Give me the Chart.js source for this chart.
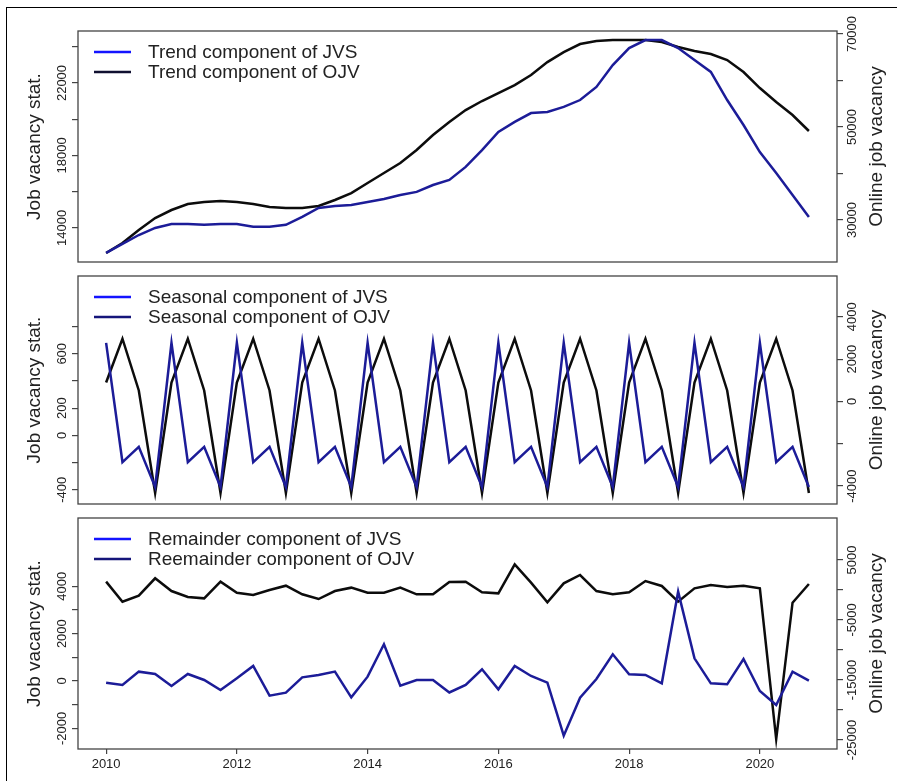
<!DOCTYPE html>
<html>
<head>
<meta charset="utf-8">
<script src="https://cdn.jsdelivr.net/npm/chart.js@4.4.1/dist/chart.umd.min.js"></script>
<style>
  body { margin: 0; background: #fff; width: 897px; height: 781px; overflow: hidden; position: relative; }
  #frame { position: absolute; left: 6px; top: 7px; width: 950px; height: 850px; border-left: 1.5px solid #000; border-top: 1.5px solid #000; }
  canvas { position: absolute; left: 0; }
</style>
</head>
<body>
<div id="frame"></div>
<canvas id="trend" width="897" height="270" style="top:0"></canvas>
<canvas id="seasonal" width="897" height="236" style="top:270px"></canvas>
<canvas id="remainder" width="897" height="275" style="top:506px"></canvas>
<script>
// quarterly observations, 2010 Q1 .. 2020 Q4
const firstYear = 2010;
const quarters = [];
for (let i = 0; i < 44; i++) quarters.push(firstYear + i / 4);

const trendJVS = [12620, 13120, 13610, 14000, 14220, 14220, 14170, 14220, 14220, 14060, 14060, 14170,
  14610, 15100, 15210, 15270, 15430, 15600, 15820, 15990, 16370, 16650, 17370, 18300,
  19300, 19850, 20340, 20400, 20680, 21060, 21780, 22990, 23930, 24370, 24370, 23930,
  23270, 22610, 21060, 19680, 18190, 17030, 15820, 14610];
const trendOJV = [22900, 25050, 27850, 30430, 32150, 33440, 33870, 34090, 33870, 33440, 32800, 32580,
  32580, 33010, 34300, 35800, 37960, 40100, 42260, 45050, 48280, 51070, 53650, 55590,
  57300, 59030, 61180, 63970, 66120, 67840, 68490, 68700, 68700, 68700, 68270, 67200,
  66340, 65690, 64400, 61820, 58380, 55370, 52580, 49140];

const seasonalJVS = [680, -198, -85, -380, 680, -198, -85, -380, 680, -198, -85, -380,
  680, -198, -85, -380, 680, -198, -85, -380, 680, -198, -85, -380,
  680, -198, -85, -380, 680, -198, -85, -380, 680, -198, -85, -380,
  680, -198, -85, -380, 680, -198, -85, -380];
const seasonalOJV = [894, 2965, 518, -4330, 894, 2965, 518, -4330, 894, 2965, 518, -4330,
  894, 2965, 518, -4330, 894, 2965, 518, -4330, 894, 2965, 518, -4330,
  894, 2965, 518, -4330, 894, 2965, 518, -4330, 894, 2965, 518, -4330,
  894, 2965, 518, -4330, 894, 2965, 518, -4330];

const remainderJVS = [-70, -170, 395, 296, -211, 296, 42, -380, 113, 634, -620, -493,
  155, 253, 395, -690, 183, 1550, -197, 42, 42, -485, -169, 493,
  -352, 634, 211, -70, -2310, -704, 85, 1127, 282, 253, -99, 3775,
  958, -99, -141, 929, -422, -1014, 395, 14];
const remainderOJV = [1390, -1950, -950, 1950, -170, -1170, -1390, 1390, -450, -830, 0, 720,
  -720, -1500, -170, 390, -450, -450, 390, -720, -720, 1330, 1390, -390,
  -560, 4280, 1220, -2060, 1110, 2500, -170, -720, -390, 1500, 670, -1950,
  280, 830, 500, 720, 280, -24840, -2110, 1000];

// axis ticks (marks) and the ones that carry a label
const xTicks = [2010, 2012, 2014, 2016, 2018, 2020];
const trendLeftTicks = [14000, 16000, 18000, 20000, 22000, 24000];
const trendLeftLabels = [14000, 18000, 22000];
const trendRightTicks = [30000, 40000, 50000, 60000, 70000];
const trendRightLabels = [30000, 50000, 70000];
const seasLeftTicks = [-400, -200, 0, 200, 400, 600, 800];
const seasLeftLabels = [-400, 0, 200, 600];
const seasRightTicks = [-4000, -2000, 0, 2000, 4000];
const seasRightLabels = [-4000, 0, 2000, 4000];
const remLeftTicks = [-2000, -1000, 0, 1000, 2000, 3000, 4000];
const remLeftLabels = [-2000, 0, 2000, 4000];
const remRightTicks = [-25000, -20000, -15000, -10000, -5000, 0, 5000];
const remRightLabels = [-25000, -15000, -5000, 5000];

const FONT = '"Liberation Sans", Arial, Helvetica, sans-serif';
const blueLine = '#1c1c98';
const blackLine = '#0c0c0c';

// R-style box, rotated tick labels, axis titles and inset legend
const rPlot = {
  id: 'rPlot',
  afterDraw(chart, args, o) {
    const ctx = chart.ctx, a = chart.chartArea;
    ctx.save();
    ctx.strokeStyle = '#444';
    ctx.lineWidth = 1.3;
    ctx.strokeRect(a.left, a.top, a.right - a.left, a.bottom - a.top);

    ctx.fillStyle = '#222';
    ctx.textAlign = 'center';
    ctx.textBaseline = 'middle';
    ctx.font = '13px ' + FONT;
    [['yL', o.leftLabels, a.left - 16], ['yR', o.rightLabels, a.right + 15]].forEach(([id, labels, x]) => {
      const sc = chart.scales[id];
      sc.ticks.forEach(t => {
        if (!labels.includes(t.value)) return;
        ctx.save();
        ctx.translate(x, sc.getPixelForValue(t.value));
        ctx.rotate(-Math.PI / 2);
        ctx.fillText(String(t.value), 0, 0);
        ctx.restore();
      });
    });

    ctx.font = '19px ' + FONT;
    const cy = (a.top + a.bottom) / 2;
    [[o.leftTitle, 35], [o.rightTitle, 877]].forEach(([txt, x]) => {
      ctx.save();
      ctx.translate(x, cy);
      ctx.rotate(-Math.PI / 2);
      ctx.fillText(txt, 0, 0);
      ctx.restore();
    });

    ctx.font = '19px ' + FONT;
    ctx.textAlign = 'left';
    o.legend.forEach((it, i) => {
      const y = a.top + 21 + i * 20;
      ctx.strokeStyle = it.color;
      ctx.lineWidth = 2.5;
      ctx.beginPath();
      ctx.moveTo(a.left + 16, y);
      ctx.lineTo(a.left + 53, y);
      ctx.stroke();
      ctx.fillStyle = '#222';
      ctx.fillText(it.text, a.left + 70, y + 1);
    });
    ctx.restore();
  }
};

function yAxis(pos, min, max, ticks, width) {
  return {
    position: pos, min: min, max: max,
    afterBuildTicks: s => { s.ticks = ticks.map(v => ({ value: v })); },
    afterFit: s => { s.width = width; },
    ticks: { display: false },
    grid: { drawOnChartArea: false, drawTicks: true, tickLength: 6, color: '#444', lineWidth: 1.2 },
    border: { display: false }
  };
}

function panel(id, cfg) {
  const pts = arr => quarters.map((q, i) => ({ x: q, y: arr[i] }));
  return new Chart(document.getElementById(id), {
    type: 'line',
    data: {
      datasets: [
        { data: pts(cfg.jvs), yAxisID: 'yL', borderColor: blueLine, borderWidth: 2.5, pointRadius: 0, tension: 0, fill: false },
        { data: pts(cfg.ojv), yAxisID: 'yR', borderColor: blackLine, borderWidth: 2.5, pointRadius: 0, tension: 0, fill: false }
      ]
    },
    options: {
      responsive: false,
      animation: false,
      devicePixelRatio: 1,
      layout: { padding: { left: 8, right: 5, top: cfg.padTop, bottom: cfg.padBottom } },
      plugins: {
        legend: { display: false },
        tooltip: { enabled: false },
        rPlot: {
          leftLabels: cfg.leftLabels, rightLabels: cfg.rightLabels,
          leftTitle: 'Job vacancy stat.', rightTitle: 'Online job vacancy',
          legend: cfg.legend
        }
      },
      scales: {
        x: {
          type: 'linear', min: 2009.57, max: 2021.18, display: cfg.showX,
          afterBuildTicks: s => { s.ticks = xTicks.map(v => ({ value: v })); },
          afterFit: s => { s.height = cfg.showX ? 32 : 0; },
          ticks: { callback: v => String(v), autoSkip: false, maxRotation: 0, color: '#222', padding: 3, font: { size: 13, family: FONT } },
          grid: { drawOnChartArea: false, drawTicks: true, tickLength: 5, color: '#444', lineWidth: 1.2 },
          border: { display: false }
        },
        yL: yAxis('left', cfg.leftMin, cfg.leftMax, cfg.leftTicks, 70),
        yR: yAxis('right', cfg.rightMin, cfg.rightMax, cfg.rightTicks, 55)
      }
    },
    plugins: [rPlot]
  });
}

panel('trend', {
  jvs: trendJVS, ojv: trendOJV, showX: false, padTop: 31, padBottom: 8,
  leftMin: 12120, leftMax: 24870, leftTicks: trendLeftTicks, leftLabels: trendLeftLabels,
  rightMin: 20970, rightMax: 70650, rightTicks: trendRightTicks, rightLabels: trendRightLabels,
  legend: [{ text: 'Trend component of JVS', color: '#1414ff' }, { text: 'Trend component of OJV', color: '#101030' }]
});

panel('seasonal', {
  jvs: seasonalJVS, ojv: seasonalOJV, showX: false, padTop: 6, padBottom: 2,
  leftMin: -505, leftMax: 1172, leftTicks: seasLeftTicks, leftLabels: seasLeftLabels,
  rightMin: -4847, rightMax: 5930, rightTicks: seasRightTicks, rightLabels: seasRightLabels,
  legend: [{ text: 'Seasonal component of JVS', color: '#1414ff' }, { text: 'Seasonal component of OJV', color: '#15157a' }]
});

panel('remainder', {
  jvs: remainderJVS, ojv: remainderOJV, showX: true, padTop: 12, padBottom: 0,
  leftMin: -2873, leftMax: 6886, leftTicks: remLeftTicks, leftLabels: remLeftLabels,
  rightMin: -26500, rightMax: 12000, rightTicks: remRightTicks, rightLabels: remRightLabels,
  legend: [{ text: 'Remainder component of JVS', color: '#1414ff' }, { text: 'Reemainder component of OJV', color: '#15157a' }]
});
</script>
</body>
</html>
